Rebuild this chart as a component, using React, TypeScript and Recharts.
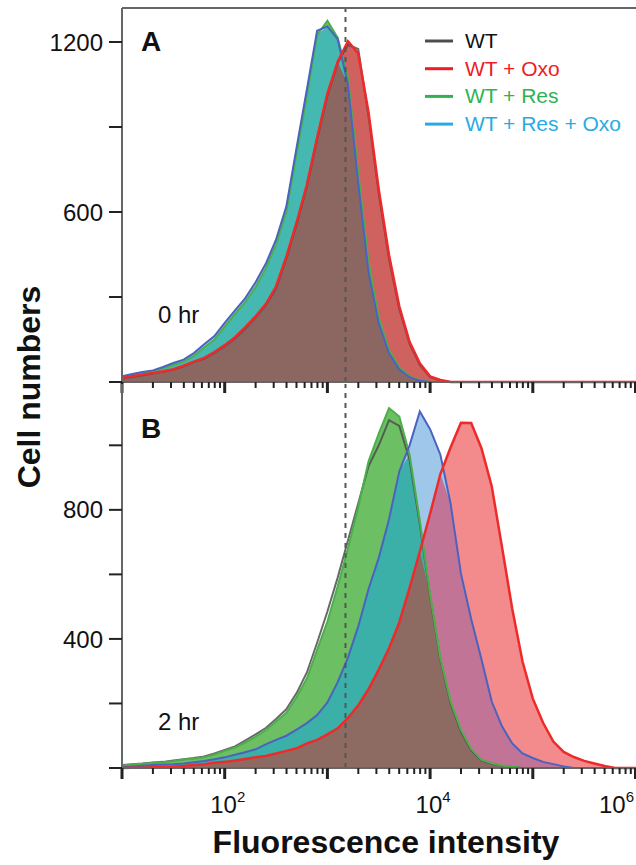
import React from 'react'
import { ComposedChart, Area, Line, XAxis, YAxis, ReferenceLine } from 'recharts'

// bin centres, 10 bins per decade (fluorescence intensity)
const intensity = [
  10, 12.6, 15.8, 20, 25.1, 31.6, 39.8, 50.1, 63.1, 79.4,
  100, 126, 158, 200, 251, 316, 398, 501, 631, 794,
  1000, 1259, 1585, 1995, 2512, 3162, 3981, 5012, 6310, 7943,
  10000, 12589, 15849, 19953, 25119, 31623, 39811, 50119, 63096, 79433,
  100000, 125893, 158489, 199526, 251189, 316228, 398107, 501187, 630957, 794328,
  1000000,
]

// panel A, 0 hr
const wtA = [
  12, 18, 24, 30, 36, 43, 55, 70, 82, 103,
  126, 154, 188, 228, 270, 330, 435, 555, 690, 855,
  1010, 1125, 1190, 1175, 940, 665, 435, 258, 135, 60,
  17, 5, 0, 0, 0, 0, 0, 0, 0, 0,
  0, 0, 0, 0, 0, 0, 0, 0, 0, 0, 0,
]
const oxoA = [
  14, 20, 26, 32, 38, 45, 58, 72, 85, 106,
  130, 158, 193, 232, 275, 337, 442, 563, 696, 863,
  1018, 1130, 1203, 1160, 953, 680, 448, 267, 142, 66,
  20, 7, 0, 0, 0, 0, 0, 0, 0, 0,
  0, 0, 0, 0, 0, 0, 0, 0, 0, 0, 0,
]
const resA = [
  18, 25, 32, 37, 48, 60, 72, 92, 122, 150,
  195, 240, 282, 335, 400, 485, 600, 805, 1010, 1225,
  1275, 1215, 1075, 740, 425, 228, 112, 52, 20, 6,
  0, 0, 0, 0, 0, 0, 0, 0, 0, 0,
  0, 0, 0, 0, 0, 0, 0, 0, 0, 0, 0,
]
const resOxoA = [
  20, 28, 35, 41, 53, 67, 79, 102, 133, 162,
  209, 253, 295, 352, 417, 502, 619, 827, 1033, 1240,
  1255, 1210, 1049, 704, 388, 207, 101, 45, 17, 4,
  0, 0, 0, 0, 0, 0, 0, 0, 0, 0,
  0, 0, 0, 0, 0, 0, 0, 0, 0, 0, 0,
]

// panel B, 2 hr
const wtB = [
  9, 12, 14, 17, 19, 23, 27, 31, 36, 45,
  56, 67, 85, 104, 124, 152, 182, 232, 296, 388,
  485, 590, 705, 820, 935, 1000, 1078, 1060, 955, 755,
  530, 335, 200, 112, 55, 23, 13, 7, 3, 0,
  0, 0, 0, 0, 0, 0, 0, 0, 0, 0, 0,
]
const oxoB = [
  0, 1, 1, 2, 3, 4, 6, 9, 12, 16,
  19, 23, 28, 33, 37, 45, 53, 61, 76, 87,
  104, 123, 155, 194, 244, 305, 371, 451, 558, 671,
  788, 911, 994, 1070, 1069, 991, 873, 685, 493, 330,
  215, 140, 82, 50, 34, 22, 14, 6, 0, 0, 0,
]
const resB = [
  8, 11, 13, 16, 18, 21, 26, 29, 33, 42,
  53, 63, 79, 97, 117, 144, 171, 219, 278, 366,
  454, 563, 681, 807, 950, 1036, 1115, 1089, 972, 767,
  537, 341, 206, 118, 59, 25, 15, 8, 4, 0,
  0, 0, 0, 0, 0, 0, 0, 0, 0, 0, 0,
]
const resOxoB = [
  3, 5, 7, 9, 11, 12, 14, 18, 22, 27,
  33, 41, 49, 58, 73, 87, 100, 119, 139, 164,
  203, 266, 342, 438, 554, 651, 771, 919, 1000, 1105,
  1050, 971, 818, 603, 462, 337, 206, 129, 76, 45,
  31, 19, 12, 5, 0, 0, 0, 0, 0, 0, 0,
]

const legendNames = ['WT', 'WT + Oxo', 'WT + Res', 'WT + Res + Oxo']
const legendColors = ['#4d4d4d', '#ee1c25', '#2fb350', '#29abe2']

const decades = [10, 100, 1000, 10000, 100000, 1000000]
const minorSteps = [2, 3, 4, 5, 6, 7, 8, 9]
const labelledDecades = [100, 10000, 1000000]
const decadeExponents = [1, 2, 3, 4, 5, 6]

const yTicksA = [0, 300, 600, 900, 1200]
const yLabelsA = [600, 1200]
const yTicksB = [0, 200, 400, 600, 800, 1000]
const yLabelsB = [400, 800]

const xMax = 1384000
const cutoff = 1500

const xTicks = [...decades, ...decades.flatMap(d => minorSteps.map(m => m * d))].filter(v => v <= xMax)

const font = "'Liberation Sans', Arial, Helvetica, sans-serif"

function buildRows(wt: number[], red: number[], green: number[], blue: number[]) {
  return intensity.map((x, i) => {
    const r = red[i], g = green[i], b = blue[i]
    return {
      x, wt: wt[i], red: r, green: g, blue: b,
      rg: Math.min(r, g), rb: Math.min(r, b), gb: Math.min(g, b), rgb: Math.min(r, g, b),
    }
  })
}

const rowsA = buildRows(wtA, oxoA, resA, resOxoA)
const rowsB = buildRows(wtB, oxoB, resB, resOxoB)

// overlap colours: singles, pairs, then triple painted last
const paletteA: Record<string, string> = {
  red: '#cf625f', green: '#6cbf62', blue: '#a3c9ea',
  rg: '#93705d', rb: '#93705d', gb: '#45b8b2', rgb: '#8c6661',
}
const paletteB: Record<string, string> = {
  red: '#f38b8d', green: '#6dbf63', blue: '#9fc7e9',
  rg: '#8d6a60', rb: '#c27497', gb: '#3bb0a8', rgb: '#8d6a62',
}
const regionOrder = ['red', 'green', 'blue', 'rg', 'rb', 'gb', 'rgb']

function XTick(props: any) {
  const { x, y, payload, showLabels } = props
  const v = payload.value
  const idx = decades.indexOf(v)
  const major = idx >= 0
  // last label sits at the page edge, so pull it inside
  const atEdge = x > 610
  return (
    <g>
      <line x1={x} x2={x} y1={y} y2={y + (major ? 11 : 6)} stroke="#222" strokeWidth={major ? 3 : 2} />
      {showLabels && labelledDecades.includes(v) && (
        <text x={atEdge ? 634 : x + 3} y={y + 45} textAnchor={atEdge ? 'end' : 'middle'} fontSize={24} fill="#111" fontFamily={font}>
          10<tspan dy={-11} fontSize={15}>{decadeExponents[idx]}</tspan>
        </text>
      )}
    </g>
  )
}

function YTick(props: any) {
  const { x, y, payload, labels } = props
  return (
    <g>
      <line x1={x - 13} x2={x} y1={y} y2={y} stroke="#222" strokeWidth={2} />
      {labels.includes(payload.value) && (
        <text x={x - 19} y={y} dy="0.36em" textAnchor="end" fontSize={24} fill="#111" fontFamily={font}>
          {payload.value}
        </text>
      )}
    </g>
  )
}

function Panel({ rows, palette, height, top, xAxisHeight, yMax, yTicks, yLabels, showLabels }: any) {
  return (
    <ComposedChart width={650} height={height} data={rows} margin={{ top, right: 0, bottom: 0, left: 62 }}>
      <XAxis
        dataKey="x"
        type="number"
        scale="log"
        domain={[10, xMax]}
        allowDataOverflow
        ticks={xTicks}
        interval={0}
        height={xAxisHeight}
        tickSize={0}
        tickMargin={0}
        tickLine={false}
        axisLine={{ stroke: '#666', strokeWidth: 2 }}
        tick={(p: any) => <XTick {...p} showLabels={showLabels} />}
        label={showLabels ? {
          value: 'Fluorescence intensity', position: 'insideBottom', offset: 12,
          style: { fontSize: 32, fontWeight: 'bold', fill: '#111', fontFamily: font },
        } : undefined}
      />
      <YAxis
        type="number"
        domain={[0, yMax]}
        ticks={yTicks}
        interval={0}
        width={60}
        tickSize={0}
        tickMargin={0}
        tickLine={false}
        axisLine={{ stroke: '#666', strokeWidth: 2 }}
        tick={(p: any) => <YTick {...p} labels={yLabels} />}
      />
      {regionOrder.map(k => (
        <Area key={k} dataKey={k} type="linear" stroke="none" fill={palette[k]} fillOpacity={1} isAnimationActive={false} />
      ))}
      <Line dataKey="wt" type="linear" stroke="#4d4d4d" strokeOpacity={0.85} strokeWidth={2} dot={false} isAnimationActive={false} />
      <Line dataKey="green" type="linear" stroke="#4cb04a" strokeWidth={2} dot={false} isAnimationActive={false} />
      <Line dataKey="blue" type="linear" stroke="#4a62c0" strokeWidth={2} dot={false} isAnimationActive={false} />
      <Line dataKey="red" type="linear" stroke="#ee2a2a" strokeWidth={2.5} dot={false} isAnimationActive={false} />
      <ReferenceLine x={cutoff} stroke="#555" strokeWidth={2} strokeDasharray="5 5" />
      {top < 20 && <ReferenceLine y={yMax} stroke="#666" strokeWidth={2} />}
    </ComposedChart>
  )
}

export default function App() {
  return (
    <div style={{ position: 'absolute', left: 0, top: 0, width: 636, height: 865, overflow: 'hidden', background: '#fff', fontFamily: font }}>
      <div style={{ position: 'absolute', left: 0, top: 0 }}>
        <Panel rows={rowsA} palette={paletteA} height={400} top={8} xAxisHeight={18} yMax={1320} yTicks={yTicksA} yLabels={yLabelsA} showLabels={false} />
      </div>
      <div style={{ position: 'absolute', left: 0, top: 0 }}>
        <Panel rows={rowsB} palette={paletteB} height={865} top={384} xAxisHeight={97} yMax={1190} yTicks={yTicksB} yLabels={yLabelsB} showLabels={true} />
      </div>
      <svg width={636} height={865} style={{ position: 'absolute', left: 0, top: 0, pointerEvents: 'none' }}>
        <text transform="translate(40,387) rotate(-90)" textAnchor="middle" fontSize={32} fontWeight="bold" fill="#111" fontFamily={font}>
          Cell numbers
        </text>
        <text x={141} y={51} fontSize={28} fontWeight="bold" fill="#111" fontFamily={font}>A</text>
        <text x={141} y={438} fontSize={28} fontWeight="bold" fill="#111" fontFamily={font}>B</text>
        <text x={158} y={323} fontSize={24} fill="#111" fontFamily={font}>0 hr</text>
        <text x={158} y={730} fontSize={24} fill="#111" fontFamily={font}>2 hr</text>
        {legendNames.map((name, i) => (
          <g key={name}>
            <line x1={425} x2={453} y1={41 + i * 27.7} y2={41 + i * 27.7} stroke={legendColors[i]} strokeWidth={3} />
            <text x={465} y={48 + i * 27.7} fontSize={21} fill={i === 0 ? '#111' : legendColors[i]} fontFamily={font}>{name}</text>
          </g>
        ))}
      </svg>
    </div>
  )
}
